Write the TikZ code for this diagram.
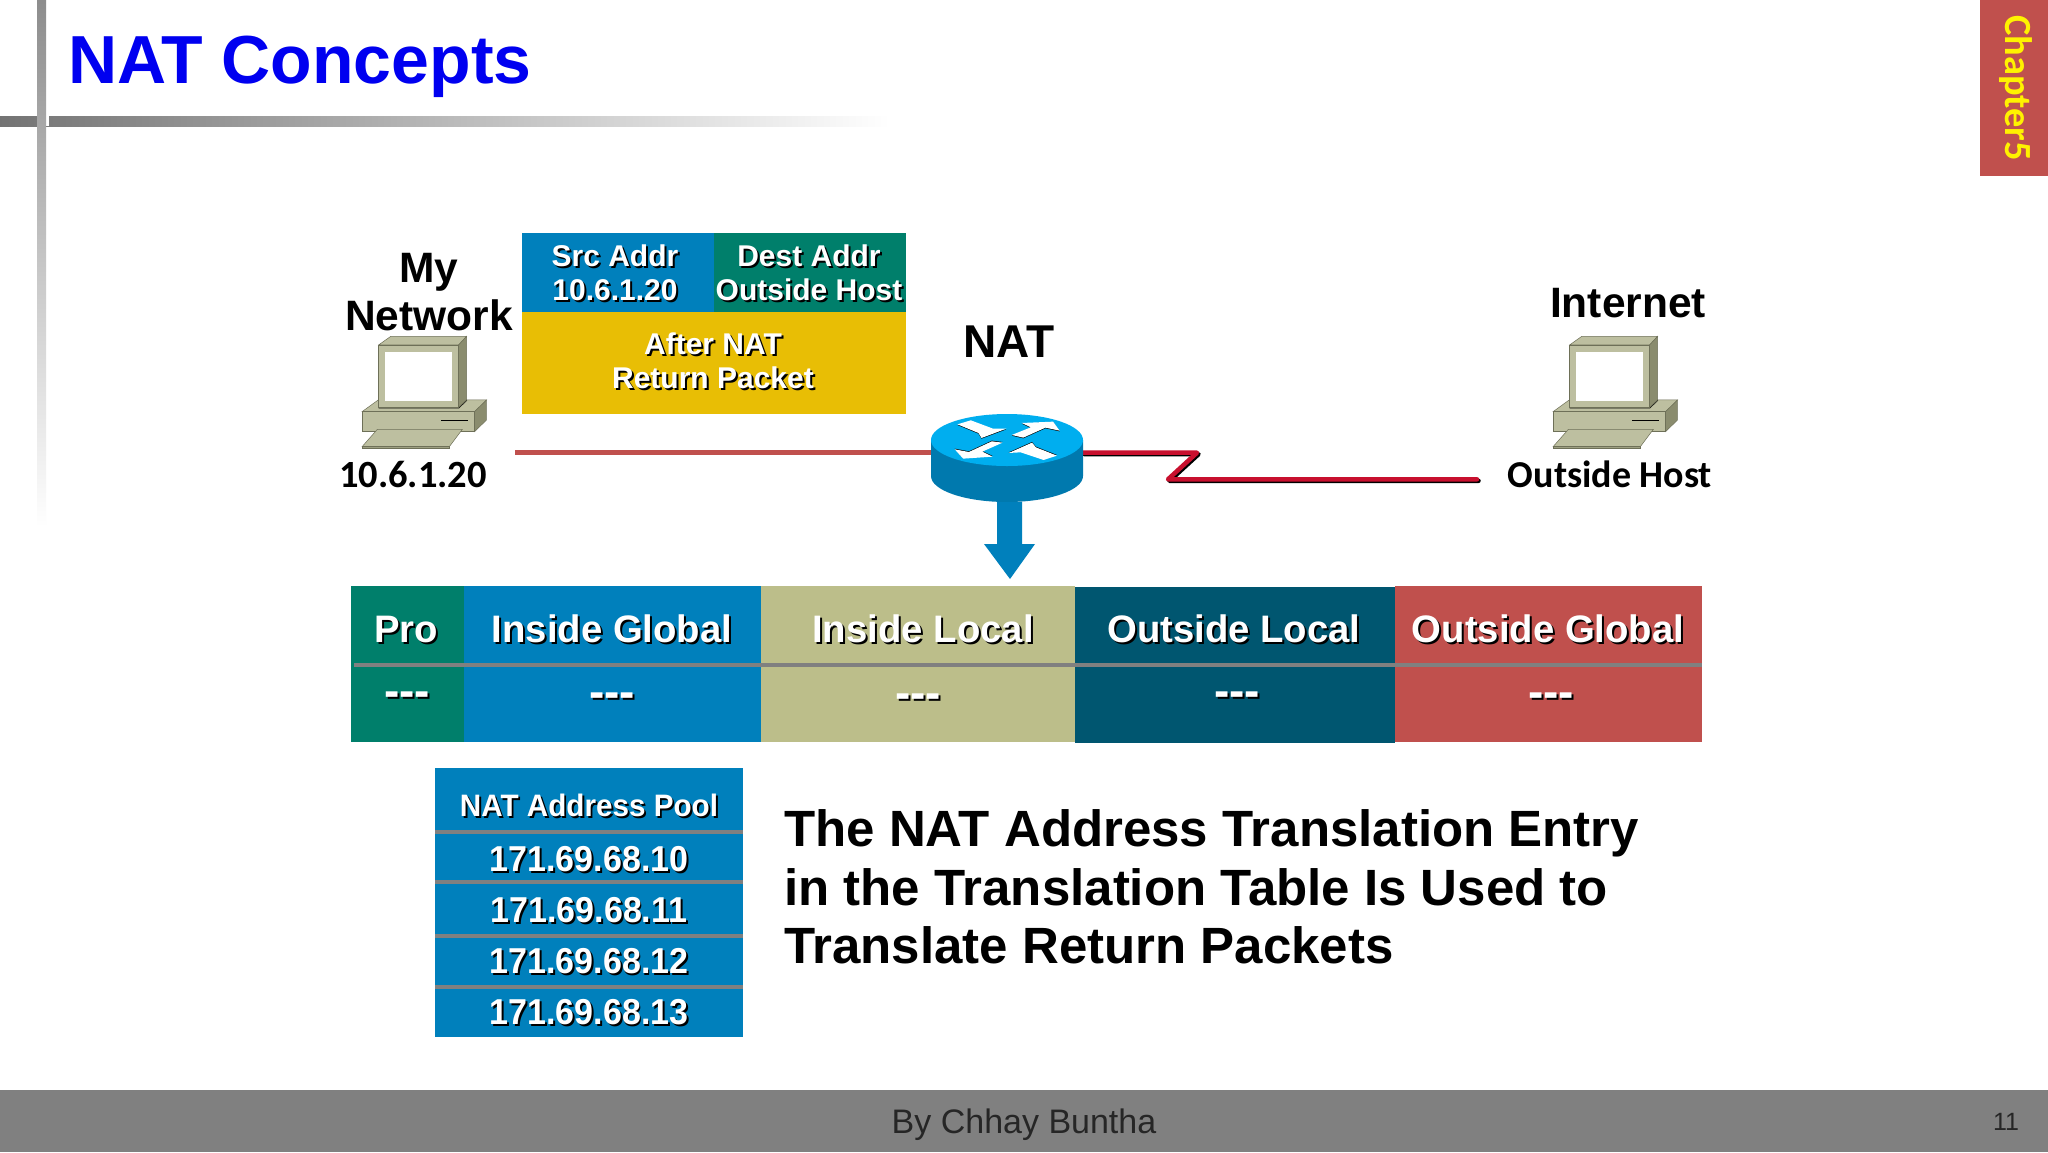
\documentclass[tikz,border=0pt]{standalone}
\usepackage{graphicx}
\usepackage{fontspec}
\setmainfont{Liberation Sans}
\newfontfamily\carlito{Carlito}
\definecolor{cblue}{HTML}{0080BC}
\definecolor{cteal}{HTML}{007F6B}
\definecolor{cyell}{HTML}{E8BE05}
\definecolor{ckhaki}{HTML}{BCBE8A}
\definecolor{cdark}{HTML}{005670}
\definecolor{cred}{HTML}{C0504D}
\definecolor{crim}{HTML}{C8102E}
\definecolor{cgray}{HTML}{808080}
\definecolor{pcbody}{HTML}{BDBFA0}
\definecolor{pcside}{HTML}{8A8C6E}
\definecolor{rtop}{HTML}{00AEEF}
\definecolor{rside}{HTML}{0079AE}
\newcommand\shd[1]{\leavevmode\rlap{\raisebox{-2pt}{\kern2pt\textcolor{black}{#1}}}\textcolor{white}{#1}}
\newcommand\nar[2]{\scalebox{#1}[1]{#2}}
\newcommand\pcicon[1]{%
\begin{scope}[shift={(#1,220)},xscale=0.3827,yscale=0.3333]
\draw[pcline,fill=pcbody] (110,575) -- (152,540) -- (435,540) -- (404,575) -- cycle;
\draw[pcline,fill=pcside] (404,575) -- (435,540) -- (435,600) -- (404,635) -- cycle;
\draw[pcline,fill=pcbody] (110,575) rectangle (404,635);
\draw[line width=1.6pt] (316,601) -- (386,601);
\draw[line width=1.6pt] (153,563) -- (362,563) -- (383,540);
\draw[pcline,fill=pcbody] (153,375) -- (185,349) -- (383,349) -- (362,375) -- cycle;
\draw[pcline,fill=pcside] (362,375) -- (383,349) -- (383,540) -- (362,563) -- cycle;
\draw[pcline,fill=pcbody] (153,375) rectangle (362,563);
\fill[white] (170,397) rectangle (344,544);
\draw[pcline,fill=pcbody] (110,680) -- (150,628) -- (372,628) -- (338,680) -- cycle;
\draw[pcline,fill=pcside!60!pcbody] (110,680) rectangle (338,686);
\end{scope}}
\tikzset{
  x=1pt,y=-1pt,
  pcline/.style={draw=pcside!80!black,line width=0.5pt},
  fs/.style 2 args={font=\fontsize{#1}{#2}\selectfont\bfseries,inner sep=0pt,align=center},
  lab/.style={fs={42.5}{48},text=black},
  head/.style={fs={38.3}{44}},
  cellv/.style={fs={46}{46}},
  pkt/.style={fs={30}{34}},
  pool/.style={fs={36}{40}},
  divider/.style={draw=cgray,line width=4.5pt},
  wan/.style={line width=4.5pt,draw=crim,line join=round,line cap=round},
  wanshadow/.style={line width=4.5pt,draw=black,line join=round,line cap=round},
}
\begin{document}
\begin{tikzpicture}
\useasboundingbox (0,0) rectangle (2048,1152);
\fill[white] (0,0) rectangle (2048,1152);
% frame bars
\shade[left color=cgray!90!black,right color=white] (0,116) rectangle (890,126);
\fill[white] (37,116) rectangle (49,126);
\shade[top color=cgray!90,bottom color=white] (37,0) rectangle (46,527);
\node[font=\fontsize{68}{68}\selectfont\bfseries,text={rgb,255:red,0;green,0;blue,240},anchor=base west,inner sep=0pt] (title) at (68,83.5) {NAT Concepts};
% chapter tab
\fill[cred] (1980,0) rectangle (2048,176);
\node[font=\fontsize{38.4}{38.4}\selectfont\bfseries\carlito,text=yellow,rotate=-90,inner sep=0pt] (chapter) at (2016,88) {Chapter5};
% packet
\fill[cblue] (521.5,233) rectangle (714,312);
\fill[cteal] (714,233) rectangle (906,312);
\fill[cyell] (521.5,312) rectangle (906,414);
\node[pkt] (src) at (615,274) {\shd{Src Addr}\\\shd{10.6.1.20}};
\node[pkt] (dst) at (809,274) {\shd{Dest Addr}\\\shd{Outside Host}};
\node[pkt] (after) at (713,362) {\shd{After NAT}\\\shd{Return Packet}};
% labels
\node[lab] (mynet) at (429,292) {My\\Network};
\node[lab] (inet) at (1628,303) {Internet};
\node[fs={46}{46},text=black] (natl) at (1009,342) {NAT};
\node[font=\fontsize{38.5}{38.5}\selectfont\bfseries\carlito,inner sep=0pt] (ipl) at (413,474) {10.6.1.20};
\node[font=\fontsize{38}{38}\selectfont\bfseries\carlito,inner sep=0pt] (ipr) at (1610,474) {Outside Host};
% computers
\pcicon{320}
\pcicon{1511}
% links
\coordinate (lanend) at (515,452.5);
\coordinate (rtl) at (931,452.5);
\coordinate (rtr) at (1083,452.7);
\coordinate (z1) at (1197,452.7);
\coordinate (z2) at (1168,479.3);
\coordinate (wanend) at (1477,479.3);
\draw[line width=4.5pt,draw=cred] (lanend) -- (rtl);
\draw[wanshadow] ([xshift=1.5pt,yshift=-1.5pt]rtr) -- ([xshift=1.5pt,yshift=-1.5pt]z1) -- ([xshift=1.5pt,yshift=-1.5pt]z2) -- ([xshift=1.5pt,yshift=-1.5pt]wanend);
\draw[wan] (rtr) -- (z1) -- (z2) -- (wanend);
% router
\fill[rside] (931,440) -- (931,476) arc[start angle=180,end angle=0,x radius=76,y radius=26] -- (1083,440) -- cycle;
\fill[rtop] (1007,440) ellipse[x radius=76,y radius=26];
\begin{scope}[shift={(900,270)},xscale=0.3827,yscale=0.3333]
\foreach \s/\dy in {black/2,white/0}{
\fill[\s] (150,463+\dy) -- (185,451+\dy) -- (243,476+\dy) -- (278,476+\dy) -- (213,504+\dy) -- (205,489+\dy) -- cycle;
\fill[\s] (292,495+\dy) -- (342,472+\dy) -- (318,459+\dy) -- (400,455+\dy) -- (417,482+\dy) -- (380,473+\dy) -- (322,503+\dy) -- cycle;
}
\foreach \s/\dy in {black/-2,white/0}{
\fill[\s] (410,557+\dy) -- (375,570+\dy) -- (315,547+\dy) -- (284,549+\dy) -- (345,518+\dy) -- (355,532+\dy) -- cycle;
\fill[\s] (268,518+\dy) -- (215,545+\dy) -- (242,560+\dy) -- (165,566+\dy) -- (143,538+\dy) -- (180,546+\dy) -- (240,514+\dy) -- cycle;
}
\end{scope}
% down arrow
\fill[cblue] (997,502) -- (1022,502) -- (1022,544) -- (1035,544) -- (1010,579) -- (984,544) -- (997,544) -- cycle;
% table
\fill[cteal] (351,586) rectangle (463.5,742);
\fill[cblue] (463.5,586) rectangle (761,742);
\fill[ckhaki] (761,586) rectangle (1075,742);
\fill[cdark] (1075,587) rectangle (1395,743);
\fill[cred] (1395,586) rectangle (1702,742);
\draw[divider] (354,665) -- (1702,665);
\node[head] (h1) at (406,630) {\shd{Pro}};
\node[head] (h2) at (612,630) {\shd{Inside Global}};
\node[head] (h3) at (923,630) {\shd{Inside Local}};
\node[head] (h4) at (1234,630) {\shd{Outside Local}};
\node[head] (h5) at (1548,630) {\shd{Outside Global}};
\node[cellv] (v1) at (407,700) {\shd{-{}-{}-}};
\node[cellv] (v2) at (612,701) {\shd{-{}-{}-}};
\node[cellv] (v3) at (918,702) {\shd{-{}-{}-}};
\node[cellv] (v4) at (1237,700) {\shd{-{}-{}-}};
\node[cellv] (v5) at (1551,701) {\shd{-{}-{}-}};
% pool
\fill[cblue] (435,768) rectangle (742.5,1037);
\foreach \y in {832,882,936,987} \draw[divider] (435,\y) -- (742.5,\y);
\node[fs={31}{31}] (ph) at (589,806) {\nar{.957}{\shd{NAT Address Pool}}};
\node[pool] (p0) at (589,860) {\nar{.945}{\shd{171.69.68.10}}};
\node[pool] (p1) at (589,911) {\nar{.945}{\shd{171.69.68.11}}};
\node[pool] (p2) at (589,962) {\nar{.945}{\shd{171.69.68.12}}};
\node[pool] (p3) at (589,1013) {\nar{.945}{\shd{171.69.68.13}}};
% caption
\node[fs={51}{58.5},align=left,anchor=west] (cap) at (784,887) {The NAT Address Translation Entry\\in the Translation Table Is Used to\\Translate Return Packets};
% footer
\fill[cgray] (0,1090) rectangle (2048,1152);
\node[font=\fontsize{34}{34}\selectfont,text=black!85,inner sep=0pt] (by) at (1024,1125) {By Chhay Buntha};
\node[font=\fontsize{25}{25}\selectfont,text=black!85,inner sep=0pt] (pg) at (2006,1122) {11};
\end{tikzpicture}
\end{document}
